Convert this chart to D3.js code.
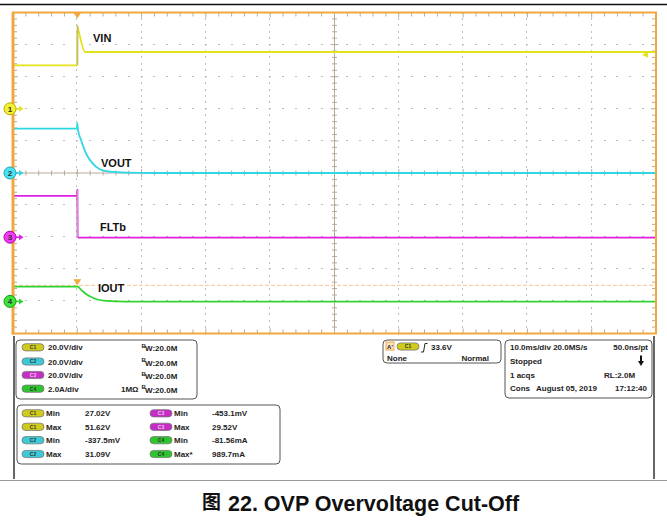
<!DOCTYPE html>
<html><head><meta charset="utf-8">
<script src="https://cdn.jsdelivr.net/npm/d3@7"></script>
<style>body{margin:0;background:#fff}svg{display:block}text{font-family:"Liberation Sans",Arial,sans-serif;font-weight:bold}</style>
</head><body>
<svg id="c" width="667" height="531"></svg>
<script>
// ---- data (time in ms, trigger at 0) ----
const timeDomain = [-10, 90];
const vinTime  = [-10, -0.05, 0, 0.15, 1.2, 90];
const vinVolts = [27.1, 27.1, 51.8, 49.5, 35.4, 35.4];
const voutTime  = [-10, -0.05, 0, 0.1, 0.58, 1.35, 2.38, 3.42, 4.98, 7.57, 12, 90];
const voutVolts = [27.6, 27.6, 31.0, 27.0, 20.6, 12.3, 6.0, 2.5, 0.8, 0.2, 0.0, 0.0];
const fltbTime  = [-10, -0.05, 0, 0.05, 0.15, 90];
const fltbVolts = [25.7, 25.7, 29.5, 1.0, -0.3, -0.3];
const ioutTime = [-10, -0.05, 0.05, 0.6, 1.35, 2.9, 4.46, 7.57, 90];
const ioutAmps = [0.92, 0.92, 0.92, 0.72, 0.46, 0.15, 0.03, -0.02, -0.02];
const traceLabels = ['VIN', 'VOUT', 'FLTb', 'IOUT'];
const channels = ['C1', 'C2', 'C3', 'C4'];
const chUnitsPerDiv = [20, 20, 20, 2];
const chScaleText = ['20.0V/div', '20.0V/div', '20.0V/div', '2.0A/div'];
const chImpedance = ['', '', '', '1MΩ'];
const chBandwidth = ['W:20.0M', 'W:20.0M', 'W:20.0M', 'W:20.0M'];
const triggerLevelV = 33.6;
const refLevelA = 1.0;
const measLeftCh = ['C1', 'C1', 'C2', 'C2'];
const measLeftType = ['Min', 'Max', 'Min', 'Max'];
const measLeftVal = ['27.02V', '51.62V', '-337.5mV', '31.09V'];
const measRightCh = ['C3', 'C3', 'C4', 'C4'];
const measRightType = ['Min', 'Max', 'Min', 'Max*'];
const measRightVal = ['-453.1mV', '29.52V', '-81.56mA', '989.7mA'];
const timebaseText = ['10.0ms/div 20.0MS/s', 'Stopped', '1 acqs', 'Cons'];
const timebaseRight = ['50.0ns/pt', '', 'RL:2.0M', '17:12:40'];
const dateText = 'August 05, 2019';
const caption = '22. OVP Overvoltage Cut-Off';

// ---- layout ----
const svg = d3.select('#c');
const X0 = 13, X1 = 656, Y0 = 12.5, Y1 = 333.5;
const x = d3.scaleLinear().domain(timeDomain).range([X0, X1]);
const yd = d3.scaleLinear().domain([-5, 5]).range([Y1, Y0]);
const chPos = [2, 0, -2, -4];
const chColor = ['#e4e21c', '#2fd6e4', '#e21ee2', '#2fd42f'];
const chMarkFill = ['#f2f030', '#4ae2f0', '#f23cf2', '#3ee23e'];
const chMarkStroke = ['#b4b000', '#1aa8b8', '#b000b0', '#10a010'];
const pillFill = ['#cfcb1c', '#3ccad8', '#c42ec4', '#2ec42e'];
const axisCol = '#b6ab9a', dotCol = '#bdbdbd', orange = '#f2a83c';

svg.append('rect').attr('width', 667).attr('height', 531).attr('fill', '#fff');
svg.append('line').attr('x1', 0).attr('x2', 667).attr('y1', 4.5).attr('y2', 4.5).attr('stroke', '#111').attr('stroke-width', 1.5);

const g = svg.append('g');
const majT = d3.range(-10, 90.001, 10), minT = d3.range(-10, 90.001, 2);
const majD = d3.range(-5, 5.001, 1), minD = d3.range(-5, 5.001, 0.2);

// dotted grid
majT.filter(t => t > -10 && t < 90 && t !== 40).forEach(t => {
  minD.forEach(d => g.append('rect').attr('x', Math.round(x(t)) - 1).attr('y', Math.round(yd(d)) - 1).attr('width', 1).attr('height', 2).attr('fill', dotCol));
});
majD.filter(d => d > -5 && d < 5 && d !== 0).forEach(d => {
  minT.forEach(t => g.append('rect').attr('x', Math.round(x(t)) - 1).attr('y', Math.round(yd(d)) - 1).attr('width', 2).attr('height', 1).attr('fill', dotCol));
});
// center axes
g.append('line').attr('x1', X0).attr('x2', X1).attr('y1', yd(0)).attr('y2', yd(0)).attr('stroke', axisCol);
g.append('line').attr('x1', x(40)).attr('x2', x(40)).attr('y1', Y0).attr('y2', Y1).attr('stroke', axisCol);
const isMaj = v => Math.abs(v - Math.round(v)) < 1e-6;
minT.forEach((t, i) => {
  const L = (i % 5 === 0) ? 4 : 2.5;
  g.append('line').attr('x1', x(t)).attr('x2', x(t)).attr('y1', yd(0) - L).attr('y2', yd(0) + L).attr('stroke', axisCol);
  g.append('line').attr('x1', x(t)).attr('x2', x(t)).attr('y1', Y0).attr('y2', Y0 + (i % 5 === 0 ? 5 : 4)).attr('stroke', axisCol);
  g.append('line').attr('x1', x(t)).attr('x2', x(t)).attr('y1', Y1).attr('y2', Y1 - (i % 5 === 0 ? 5 : 4)).attr('stroke', axisCol);
});
minD.forEach(d => {
  const L = isMaj(d) ? 4 : 2.5;
  g.append('line').attr('x1', x(40) - L).attr('x2', x(40) + L).attr('y1', yd(d)).attr('y2', yd(d)).attr('stroke', axisCol);
  g.append('line').attr('x1', X0).attr('x2', X0 + (isMaj(d) ? 5 : 4)).attr('y1', yd(d)).attr('y2', yd(d)).attr('stroke', axisCol);
  g.append('line').attr('x1', X1).attr('x2', X1 - (isMaj(d) ? 5 : 4)).attr('y1', yd(d)).attr('y2', yd(d)).attr('stroke', axisCol);
});

// reference dashed level (ch4)
const chY = (ci, v) => yd(chPos[ci] + v / chUnitsPerDiv[ci]);
g.append('line').attr('x1', X0).attr('x2', X1).attr('y1', chY(3, refLevelA)).attr('y2', chY(3, refLevelA))
  .attr('stroke', '#f7c690').attr('stroke-dasharray', '4,2');

// traces
const series = [[vinTime, vinVolts], [voutTime, voutVolts], [fltbTime, fltbVolts], [ioutTime, ioutAmps]];
series.forEach((s, ci) => {
  const pts = s[0].map((t, i) => [t, s[1][i]]);
  const line = d3.line().x(d => x(d[0])).y(d => chY(ci, d[1])).curve(d3.curveMonotoneX);
  g.append('path').attr('d', line(pts)).attr('fill', 'none').attr('stroke', chColor[ci]).attr('stroke-width', 1.8);
});
// transition bands
[[0, vinVolts[1], vinVolts[2], '#bfb88a'], [2, fltbVolts[4], fltbVolts[2], '#cf9bcf']].forEach(b => {
  g.append('rect').attr('x', x(0) - 0.5).attr('width', 1.6).attr('y', chY(b[0], b[2])).attr('height', chY(b[0], b[1]) - chY(b[0], b[2])).attr('fill', b[3]).attr('opacity', 0.9);
});

// trace labels
const labelPos = [[93, 42], [101, 167], [100, 231], [98, 292]];
traceLabels.forEach((t, i) => g.append('text').attr('x', labelPos[i][0]).attr('y', labelPos[i][1]).attr('font-size', 11).attr('fill', '#111').text(t));

// border
g.append('rect').attr('x', X0).attr('y', Y0).attr('width', X1 - X0).attr('height', Y1 - Y0).attr('fill', 'none').attr('stroke', orange).attr('stroke-width', 2);
g.append('line').attr('x1', X0).attr('x2', X0).attr('y1', Y0).attr('y2', Y1 + 1).attr('stroke', orange).attr('stroke-width', 3);

// trigger markers
const tx = x(0);
g.append('path').attr('d', `M${tx - 4},${Y0}L${tx + 4},${Y0}L${tx},${Y0 + 6}Z`).attr('fill', orange);
const ry = chY(3, refLevelA);
g.append('path').attr('d', `M${tx - 4},${ry - 6}L${tx + 4},${ry - 6}L${tx},${ry}Z`).attr('fill', orange);
const tly = chY(0, triggerLevelV);
g.append('path').attr('d', `M${X1 - 14},${tly}L${X1 - 8},${tly - 3}L${X1 - 8},${tly + 3}Z`).attr('fill', chColor[0]);

// channel markers
chPos.forEach((p, i) => {
  const cy = yd(p);
  g.append('line').attr('x1', 15).attr('x2', 20).attr('y1', cy).attr('y2', cy).attr('stroke', chColor[i]).attr('stroke-width', 1.5);
  g.append('path').attr('d', `M19,${cy - 3}L23.5,${cy}L19,${cy + 3}Z`).attr('fill', chColor[i]);
  g.append('circle').attr('cx', 10).attr('cy', cy).attr('r', 6).attr('fill', chMarkFill[i]).attr('stroke', chMarkStroke[i]).attr('stroke-width', 1);
  g.append('text').attr('x', 10).attr('y', cy + 3).attr('text-anchor', 'middle').attr('font-size', 8).attr('fill', '#333').text(i + 1);
});

// info panel frame
svg.append('line').attr('x1', 14).attr('x2', 14).attr('y1', 336).attr('y2', 479).attr('stroke', '#333').attr('stroke-width', 1.5);
svg.append('line').attr('x1', 654).attr('x2', 654).attr('y1', 336).attr('y2', 479).attr('stroke', '#333').attr('stroke-width', 1.5);
svg.append('line').attr('x1', 0).attr('x2', 667).attr('y1', 480.5).attr('y2', 480.5).attr('stroke', '#9a9a9a').attr('stroke-width', 1.2);

const box = (bx, by, bw, bh) => svg.append('rect').attr('x', bx).attr('y', by).attr('width', bw).attr('height', bh).attr('rx', 4)
  .attr('fill', '#fff').attr('stroke', '#555').attr('stroke-width', 1);
const pill = (px, cy, ch) => {
  const i = channels.indexOf(ch);
  svg.append('rect').attr('x', px).attr('y', cy - 3.6).attr('width', 22).attr('height', 7.2).attr('rx', 3.6)
    .attr('fill', pillFill[i]).attr('stroke', '#777').attr('stroke-width', 0.8);
  svg.append('text').attr('x', px + 11).attr('y', cy + 1.8).attr('text-anchor', 'middle').attr('font-size', 5).attr('fill', i === 2 ? '#f4c8f4' : '#333').text(ch);
};
const txt = (tx_, ty, s, anchor) => svg.append('text').attr('x', tx_).attr('y', ty).attr('font-size', 8).attr('fill', '#222').attr('text-anchor', anchor || 'start').text(s);

box(16, 340, 181, 59);
const r1 = [347.3, 361.5, 375, 388.7];
channels.forEach((c, i) => {
  pill(22, r1[i], c);
  txt(48, r1[i] + 3, chScaleText[i]);
  if (chImpedance[i]) txt(121, r1[i] + 3, chImpedance[i]);
  svg.append('text').attr('x', 141.5).attr('y', r1[i] + 0.5).attr('font-size', 6).attr('fill', '#222').text('B');
  txt(145, r1[i] + 4, chBandwidth[i]);
});

box(17, 405, 263, 59);
const r2 = [413.3, 426.8, 440.2, 454];
r2.forEach((ry_, i) => {
  pill(22, ry_, measLeftCh[i]);
  txt(46, ry_ + 3, measLeftType[i]);
  txt(85, ry_ + 3, measLeftVal[i]);
  pill(150, ry_, measRightCh[i]);
  txt(174, ry_ + 3, measRightType[i]);
  txt(212, ry_ + 3, measRightVal[i]);
});

// trigger box
box(383, 340, 118, 23);
svg.append('rect').attr('x', 386).attr('y', 342).attr('width', 8).attr('height', 8).attr('fill', '#fbe3c8').attr('stroke', orange).attr('stroke-width', 1);
svg.append('text').attr('x', 390).attr('y', 348.5).attr('text-anchor', 'middle').attr('font-size', 6).attr('fill', '#222').text("A'");
pill(397, 346.5, 'C1');
svg.append('path').attr('d', 'M421,352 L423.5,352 L425,343.5 L427.5,343.5').attr('fill', 'none').attr('stroke', '#222').attr('stroke-width', 1);
txt(431, 349.5, triggerLevelV.toFixed(1) + 'V');
txt(387, 361, 'None');
txt(489, 361, 'Normal', 'end');

// timebase box
box(505, 340, 147, 58);
const r3 = [347.3, 361.3, 374.8, 388.3];
timebaseText.forEach((s, i) => txt(510, r3[i] + 3, s));
txt(648, r3[0] + 3, timebaseRight[0], 'end');
txt(604, r3[2] + 3, timebaseRight[2]);
txt(647, r3[3] + 3, timebaseRight[3], 'end');
txt(536, r3[3] + 3, dateText);
svg.append('line').attr('x1', 641).attr('x2', 641).attr('y1', 355.5).attr('y2', 362).attr('stroke', '#111').attr('stroke-width', 2);
svg.append('path').attr('d', 'M638,361 L644,361 L641,366 Z').attr('fill', '#111');

// caption
svg.append('text').attr('x', 202).attr('y', 509).attr('font-size', 19).attr('fill', '#111')
  .style('font-family', '"Noto Sans CJK SC",sans-serif').text('图');
svg.append('text').attr('x', 228).attr('y', 510.5).attr('font-size', 21.5).attr('fill', '#111').text(caption);
</script>
</body></html>
